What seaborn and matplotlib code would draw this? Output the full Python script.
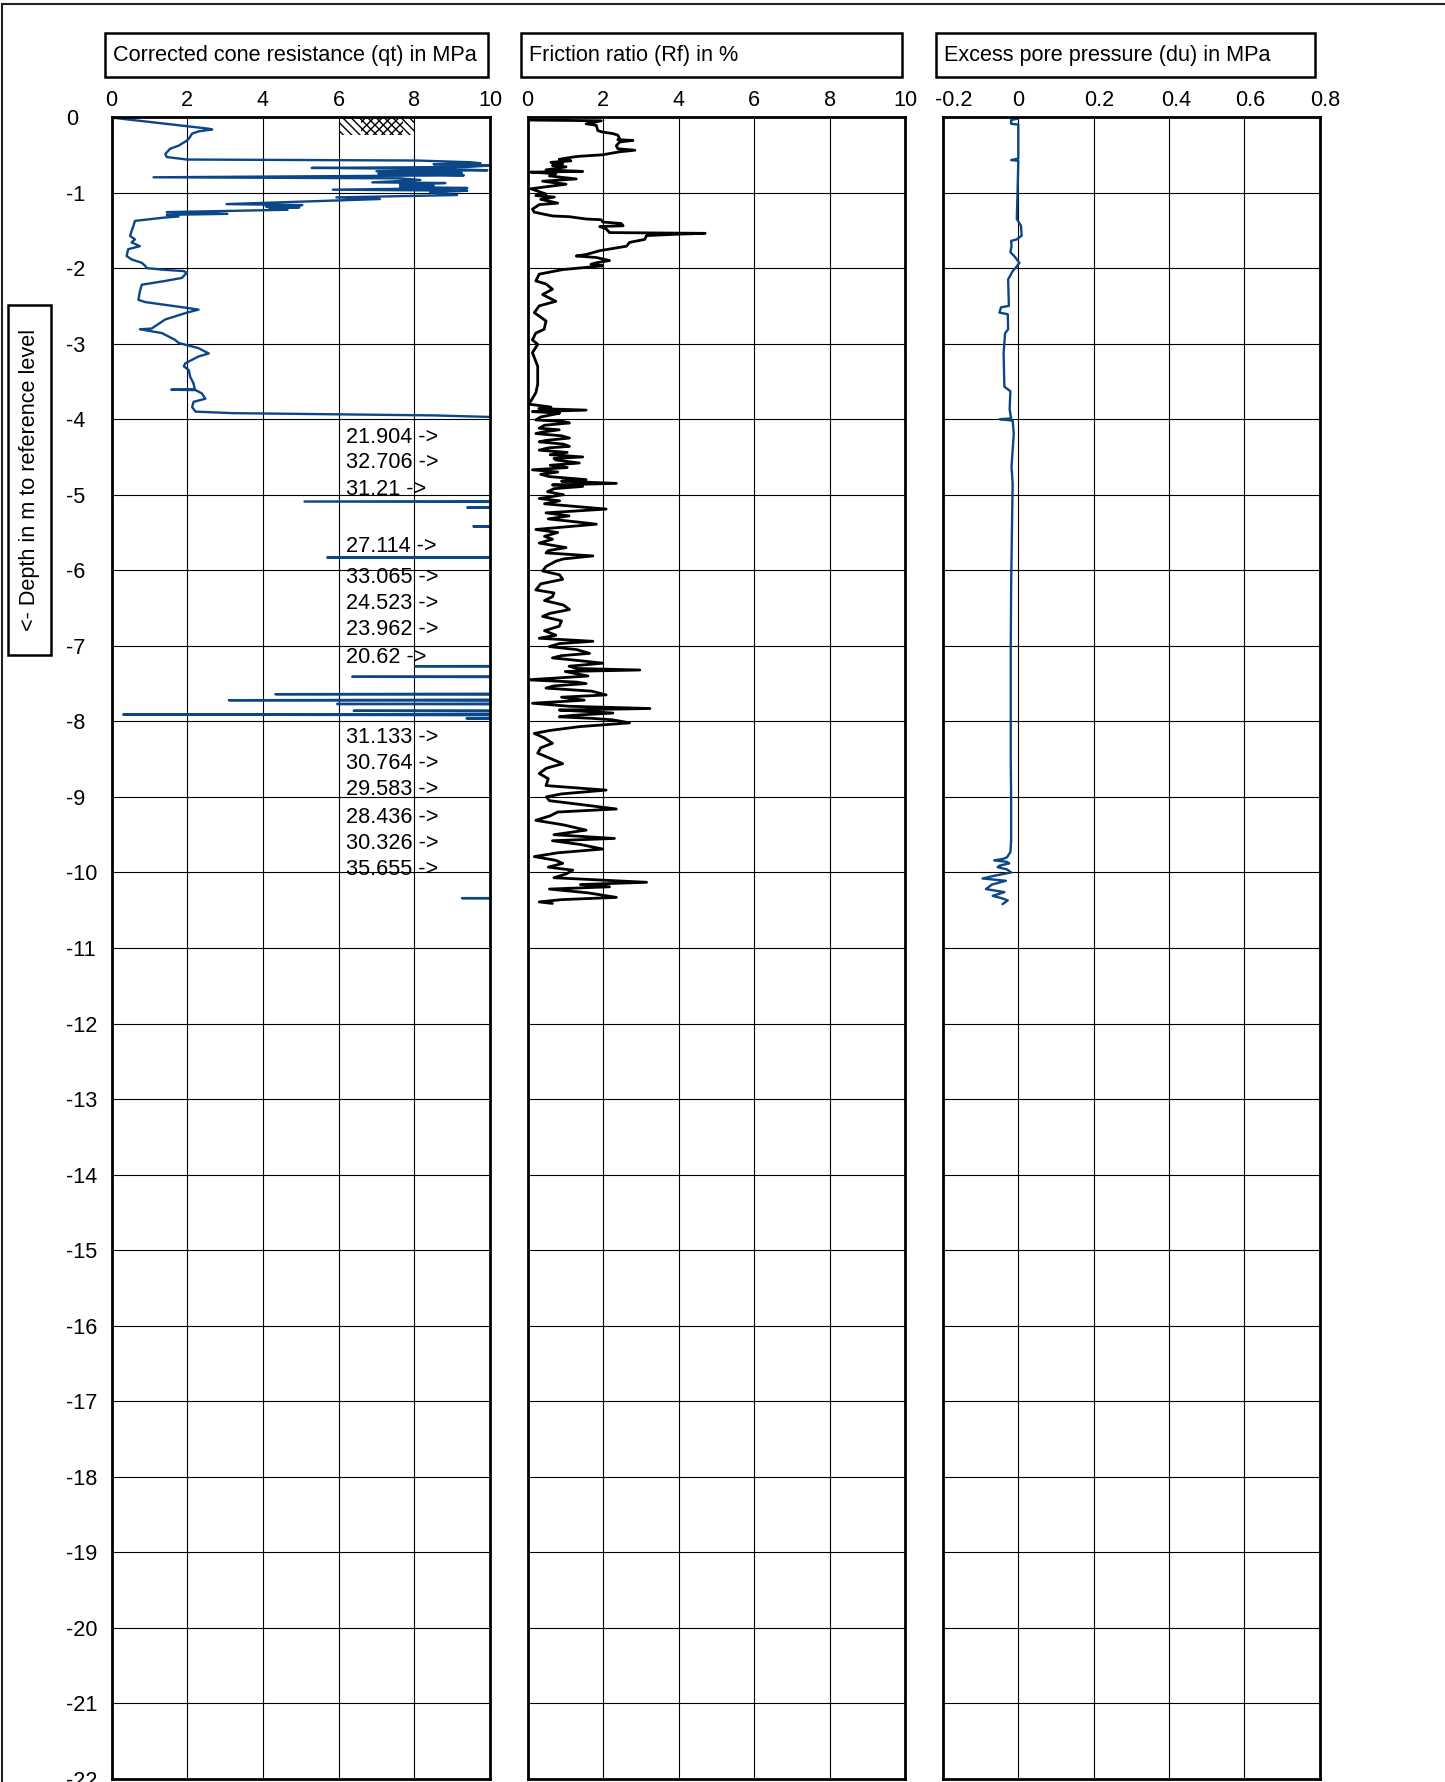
import matplotlib
matplotlib.use("Agg")
import matplotlib.pyplot as plt
from matplotlib.patches import Rectangle
from matplotlib.transforms import ScaledTranslation
import seaborn as sns

# ---- CPT sounding data (level in m relative to reference, negative downward) ----
qt_level = [-0.01, -0.155, -0.165, -0.19, -0.22, -0.29, -0.32, -0.38, -0.42, -0.49, -0.53, -0.55,
            -0.563, -0.576, -0.599, -0.612, -0.625, -0.643, -0.661, -0.674, -0.687, -0.705, -0.718,
            -0.741, -0.749, -0.772, -0.798, -0.812, -0.834, -0.847, -0.865, -0.874, -0.896, -0.909,
            -0.927, -0.940, -0.962, -0.976, -0.998, -1.033, -1.064, -1.086, -1.153, -1.166, -1.184,
            -1.197, -1.211, -1.228, -1.259, -1.282, -1.295, -1.317, -1.33, -1.375, -1.44, -1.51,
            -1.574, -1.62, -1.66, -1.71, -1.75, -1.84, -1.885, -1.93, -1.97, -2.00, -2.02, -2.04,
            -2.06, -2.13, -2.17, -2.22, -2.31, -2.42, -2.45, -2.53, -2.55, -2.59, -2.68, -2.77,
            -2.80, -2.81, -2.86, -2.95, -2.99, -3.02, -3.06, -3.13, -3.17, -3.26, -3.30, -3.35,
            -3.44, -3.53, -3.605, -3.61, -3.615, -3.66, -3.73, -3.77, -3.84, -3.90, -3.92, -3.95,
            -3.97, -4.24, -4.58, -4.93, -5.07, -5.09, -5.11, -5.16, -5.17, -5.18, -5.41, -5.42,
            -5.43, -5.68, -5.82, -5.83, -5.84, -6.09, -6.44, -6.79, -7.15, -7.26, -7.27, -7.28,
            -7.40, -7.41, -7.42, -7.63, -7.64, -7.65, -7.71, -7.72, -7.73, -7.76, -7.77, -7.78,
            -7.85, -7.86, -7.87, -7.90, -7.91, -7.92, -7.95, -7.96, -7.97, -8.21, -8.56, -8.90,
            -9.27, -9.62, -9.96, -10.33, -10.34, -10.36]
qt_value = [0.04, 2.57, 2.66, 2.30, 2.13, 2.04, 1.97, 1.77, 1.55, 1.42, 1.46, 1.77,
            1.99, 8.07, 9.49, 9.75, 8.51, 9.97, 9.40, 5.29, 8.51, 9.93, 7.00,
            9.26, 7.05, 9.31, 1.11, 7.62, 8.16, 7.62, 6.89, 8.82, 7.62, 8.51,
            7.62, 9.40, 5.85, 9.40, 8.42, 9.13, 5.94, 7.09, 3.04, 5.04, 4.08,
            4.96, 4.17, 4.65, 1.46, 3.06, 1.46, 1.77, 1.42, 0.62, 0.58, 0.53,
            0.49, 0.62, 0.53, 0.75, 0.44, 0.40, 0.53, 0.80, 0.89, 0.93, 1.33, 1.91,
            1.99, 1.86, 1.42, 0.80, 0.75, 0.71, 0.89, 2.04, 2.30, 1.99, 1.42, 1.15,
            1.06, 0.75, 1.33, 1.68, 1.77, 1.99, 2.30, 2.57, 2.30, 1.95, 1.91, 2.04,
            2.08, 2.17, 2.20, 1.58, 2.22, 2.39, 2.48, 2.17, 2.13, 2.22, 3.19, 8.51,
            9.97, 21.904, 32.706, 31.21, 26.5, 5.10, 24.8, 18.2, 9.40, 19.5, 22.3, 9.56,
            23.1, 27.114, 21.6, 5.70, 25.2, 33.065, 24.523, 23.962, 20.62, 17.4, 8.02, 15.8,
            16.9, 6.36, 18.3, 14.2, 4.33, 13.7, 12.5, 3.10, 14.8, 15.1, 5.96, 16.4,
            14.9, 6.40, 13.2, 12.6, 0.31, 11.8, 13.5, 9.38, 18.7, 31.133, 30.764, 29.583,
            28.436, 30.326, 35.655, 24.1, 9.26, 22.0]

# off-scale cone resistance values written beside the qt track
offscale_level = [-4.24, -4.58, -4.93, -5.68, -6.09, -6.44, -6.79, -7.15,
                  -8.21, -8.56, -8.90, -9.27, -9.62, -9.96]
offscale_value = [21.904, 32.706, 31.21, 27.114, 33.065, 24.523, 23.962, 20.62,
                  31.133, 30.764, 29.583, 28.436, 30.326, 35.655]

rf_level = [-0.04, -0.05, -0.09, -0.11, -0.18, -0.20, -0.22, -0.24, -0.29, -0.30, -0.31, -0.33,
            -0.38, -0.42, -0.44, -0.46, -0.50, -0.52, -0.53, -0.56, -0.58, -0.60, -0.62, -0.64,
            -0.66, -0.70, -0.72, -0.73, -0.75, -0.78, -0.82, -0.85, -0.89, -0.95, -1.02, -1.04,
            -1.06, -1.09, -1.14, -1.16, -1.22, -1.26, -1.31, -1.32, -1.35, -1.36, -1.39, -1.41,
            -1.44, -1.45, -1.48, -1.53, -1.54, -1.55, -1.57, -1.62, -1.66, -1.71, -1.77, -1.82,
            -1.84, -1.86, -1.90, -1.93, -1.95, -1.97, -2.02, -2.08, -2.17, -2.21, -2.28, -2.35,
            -2.44, -2.50, -2.59, -2.70, -2.81, -2.86, -2.95, -3.01, -3.12, -3.30, -3.54, -3.65,
            -3.76, -3.80, -3.81, -3.84, -3.86, -3.88, -3.90, -3.92, -3.94, -3.97, -4.01, -4.03,
            -4.05, -4.08, -4.12, -4.14, -4.17, -4.19, -4.22, -4.25, -4.28, -4.30, -4.33, -4.36,
            -4.38, -4.41, -4.44, -4.47, -4.50, -4.52, -4.54, -4.58, -4.61, -4.64, -4.67, -4.70,
            -4.73, -4.76, -4.80, -4.82, -4.85, -4.87, -4.89, -4.92, -4.96, -5.00, -5.05, -5.08,
            -5.12, -5.16, -5.19, -5.24, -5.28, -5.32, -5.36, -5.39, -5.46, -5.50, -5.55, -5.59,
            -5.64, -5.70, -5.74, -5.77, -5.81, -5.85, -5.88, -5.95, -6.01, -6.06, -6.12, -6.18,
            -6.26, -6.30, -6.35, -6.40, -6.46, -6.52, -6.57, -6.61, -6.67, -6.74, -6.80, -6.86,
            -6.90, -6.94, -6.97, -7.01, -7.05, -7.10, -7.13, -7.16, -7.20, -7.23, -7.27, -7.30,
            -7.32, -7.34, -7.36, -7.40, -7.45, -7.48, -7.50, -7.53, -7.56, -7.60, -7.65, -7.68,
            -7.72, -7.76, -7.80, -7.83, -7.85, -7.87, -7.89, -7.92, -7.94, -7.96, -7.98, -8.02,
            -8.07, -8.12, -8.16, -8.22, -8.29, -8.35, -8.42, -8.49, -8.56, -8.62, -8.69, -8.76,
            -8.85, -8.91, -8.96, -9.00, -9.05, -9.10, -9.16, -9.20, -9.25, -9.31, -9.37, -9.44,
            -9.50, -9.55, -9.58, -9.63, -9.69, -9.74, -9.79, -9.84, -9.88, -9.93, -9.97, -10.02,
            -10.07, -10.13, -10.16, -10.19, -10.22, -10.27, -10.33, -10.36, -10.39, -10.41]
rf_value = [0.00, 1.95, 1.55, 1.82, 1.86, 1.99, 2.26, 2.39, 2.44, 2.39, 2.79, 2.44,
            2.35, 2.39, 2.84, 2.44, 1.99, 1.37, 1.20, 0.84, 1.15, 0.62, 0.93, 0.66,
            1.02, 0.49, 1.46, 0.09, 0.75, 0.58, 1.29, 0.40, 1.02, 0.09, 0.49, 0.22,
            0.71, 0.35, 0.80, 0.31, 0.13, 0.18, 0.66, 1.11, 1.55, 1.95, 1.99, 2.48,
            2.53, 1.91, 2.08, 2.17, 4.70, 4.03, 3.15, 3.10, 2.70, 2.62, 1.91, 1.55,
            1.29, 1.82, 2.17, 1.82, 1.68, 1.99, 0.93, 0.31, 0.22, 0.49, 0.66, 0.40,
            0.75, 0.31, 0.18, 0.49, 0.44, 0.22, 0.13, 0.27, 0.13, 0.27, 0.27, 0.22,
            0.09, 0.00, 0.18, 0.62, 0.30, 1.55, 0.13, 0.85, 0.66, 0.35, 0.22, 0.95,
            1.11, 0.45, 0.31, 0.84, 0.40, 0.22, 0.90, 1.11, 0.50, 0.31, 0.95, 1.11,
            0.55, 0.31, 1.05, 0.60, 1.46, 0.70, 0.75, 1.37, 0.60, 1.05, 0.13, 0.80,
            0.35, 0.58, 1.55, 0.90, 2.35, 0.66, 1.46, 0.70, 0.53, 0.95, 0.31, 0.85,
            0.45, 1.40, 2.08, 0.49, 1.10, 0.55, 1.30, 1.82, 0.22, 0.80, 0.45, 0.66,
            0.31, 1.02, 0.55, 0.49, 1.73, 0.95, 0.75, 0.49, 0.40, 0.85, 0.93, 0.35,
            0.22, 0.70, 0.66, 0.45, 0.95, 1.11, 0.60, 0.40, 0.90, 0.84, 0.45, 0.75,
            0.31, 1.73, 0.85, 0.58, 1.30, 1.64, 0.90, 0.66, 1.45, 1.99, 1.10, 1.29,
            2.97, 1.00, 1.20, 1.60, 0.00, 1.30, 1.55, 0.70, 0.49, 1.70, 2.08, 0.90,
            1.50, 0.13, 1.10, 3.24, 0.84, 1.60, 2.26, 1.20, 0.84, 1.70, 2.26, 2.70,
            1.37, 0.60, 0.18, 0.45, 0.66, 0.35, 0.27, 0.60, 0.93, 0.50, 0.31, 0.55,
            0.49, 2.08, 0.90, 0.50, 0.58, 1.40, 2.35, 0.80, 0.60, 0.22, 0.95, 1.55,
            0.70, 2.30, 0.66, 1.40, 1.99, 0.80, 0.18, 0.75, 0.93, 0.55, 1.20, 1.02,
            0.70, 3.15, 1.40, 2.17, 0.58, 1.60, 2.35, 0.90, 0.31, 0.66]

du_level = [-0.02, -0.04, -0.09, -0.10, -0.55, -0.57, -0.58, -1.00, -1.35, -1.44, -1.57, -1.62,
            -1.64, -1.71, -1.79, -1.84, -1.93, -1.99, -2.04, -2.15, -2.50, -2.52, -2.59, -2.61,
            -2.81, -2.86, -3.12, -3.57, -3.63, -3.87, -3.99, -4.00, -4.02, -4.19, -4.63, -4.85,
            -5.50, -6.20, -7.00, -7.80, -8.50, -9.04, -9.58, -9.73, -9.80, -9.82, -9.84, -9.86,
            -9.88, -9.91, -9.93, -9.96, -10.00, -10.04, -10.08, -10.11, -10.16, -10.22, -10.26,
            -10.31, -10.34, -10.37, -10.42]
du_value = [0.000, -0.019, -0.019, 0.000, 0.000, -0.019, 0.000, -0.002, -0.004, 0.007, 0.009, -0.004,
            -0.019, -0.018, -0.021, -0.011, 0.003, -0.006, -0.015, -0.027, -0.025, -0.046, -0.050, -0.028,
            -0.027, -0.035, -0.039, -0.037, -0.021, -0.023, -0.019, -0.049, -0.015, -0.012, -0.018, -0.015,
            -0.017, -0.019, -0.020, -0.020, -0.020, -0.019, -0.019, -0.021, -0.030, -0.040, -0.064, -0.030,
            -0.024, -0.050, -0.055, -0.030, -0.019, -0.060, -0.095, -0.033, -0.070, -0.086, -0.037,
            -0.068, -0.045, -0.028, -0.042]

x_ticks_qt = [0, 2, 4, 6, 8, 10]
x_ticks_rf = [0, 2, 4, 6, 8, 10]
x_ticks_du = [-0.2, 0, 0.2, 0.4, 0.6, 0.8]
x_tick_labels_du = ["-0.2", "0", "0.2", "0.4", "0.6", "0.8"]
y_ticks = list(range(0, -23, -1))
titles = ["Corrected cone resistance (qt) in MPa",
          "Friction ratio (Rf) in %",
          "Excess pore pressure (du) in MPa"]
y_title = "<- Depth in m to reference level"

# ---- styling ----
sns.set_theme(style="white")
plt.rcParams["font.family"] = ["Liberation Sans", "DejaVu Sans"]
FS = 15.6
BLUE = "#0b4788"

W, H = 1445, 1782
fig = plt.figure(figsize=(W / 100, H / 100), dpi=100)
fig.patch.set_facecolor("white")


def px(x0, y0, x1, y1):
    """Figure-fraction rectangle from pixel edges (top-left origin)."""
    return [x0 / W, 1 - y1 / H, (x1 - x0) / W, (y1 - y0) / H]


ax_qt = fig.add_axes(px(111.5, 117, 490, 1779))
ax_rf = fig.add_axes(px(527.5, 117, 905.5, 1779))
ax_du = fig.add_axes(px(943, 117, 1319.5, 1779))

sns.lineplot(x=qt_value, y=qt_level, ax=ax_qt, sort=False, estimator=None,
             color=BLUE, linewidth=1.7)
sns.lineplot(x=rf_value, y=rf_level, ax=ax_rf, sort=False, estimator=None,
             color="black", linewidth=2.0)
sns.lineplot(x=du_value, y=du_level, ax=ax_du, sort=False, estimator=None,
             color=BLUE, linewidth=1.7)

limits = [(0, 10), (0, 10), (-0.2, 0.8)]
xticks = [x_ticks_qt, x_ticks_rf, x_ticks_du]
for ax, lim, xt in zip([ax_qt, ax_rf, ax_du], limits, xticks):
    ax.set_xlim(*lim)
    ax.set_ylim(-22, 0)
    ax.set_xticks(xt)
    ax.set_yticks(y_ticks)
    ax.xaxis.tick_top()
    ax.grid(True, color="black", linewidth=0.8)
    ax.set_axisbelow(True)
    for s in ax.spines.values():
        s.set_color("black")
        s.set_linewidth(2.0)
    ax.tick_params(axis="x", length=0, pad=4, labelsize=FS, labelcolor="black")
    ax.tick_params(axis="y", length=0, labelsize=FS, labelcolor="black")
    ax.set_xlabel("")
    ax.set_ylabel("")
    ax.set_facecolor("white")

ax_du.set_xticklabels(x_tick_labels_du)
ax_rf.set_yticklabels([])
ax_du.set_yticklabels([])
ax_qt.set_yticklabels([str(t) for t in y_ticks])
ax_qt.tick_params(axis="y", pad=33)
for lab in ax_qt.get_yticklabels():
    lab.set_horizontalalignment("left")

# nudge the pore-pressure tick labels slightly to the right
du_shift = [11, 0, 6, 7, 6, 6]
for lab, dx in zip(ax_du.get_xticklabels(), du_shift):
    lab.set_transform(lab.get_transform() + ScaledTranslation(dx / 100, 0, fig.dpi_scale_trans))

# hatched marker at the top of the qt track
ax_qt.add_patch(Rectangle((6.0, -0.24), 2.0, 0.24, fill=False, hatch="\\\\\\\\",
                          linewidth=0, edgecolor="black", zorder=3))
ax_qt.add_patch(Rectangle((6.6, -0.24), 1.1, 0.24, fill=False, hatch="////",
                          linewidth=0, edgecolor="black", zorder=3))

# labels for cone resistance values beyond the axis range
for lv, val in zip(offscale_level, offscale_value):
    ax_qt.text(6.2, lv, f"{val:g} ->", fontsize=FS, ha="left", va="center",
               color="black", zorder=5, clip_on=False)

# titled boxes above the tracks
boxes = [(105, 488), (521, 902), (936, 1315)]
for (x0, x1), title in zip(boxes, titles):
    fig.add_artist(Rectangle((x0 / W, 1 - 77 / H), (x1 - x0) / W, 44 / H,
                             transform=fig.transFigure, fill=False,
                             edgecolor="black", linewidth=1.8))
    fig.text((x0 + 8) / W, 1 - 55 / H, title, fontsize=FS, ha="left",
             va="center", color="black")

# depth axis title box
fig.add_artist(Rectangle((8 / W, 1 - 655 / H), 43 / W, 350 / H,
                         transform=fig.transFigure, fill=False,
                         edgecolor="black", linewidth=1.8))
fig.text(29.5 / W, 1 - 480 / H, y_title, rotation=90, fontsize=FS,
         ha="center", va="center", color="black")

# outer chart frame
fig.add_artist(Rectangle((1.5 / W, -0.2), 1.3, 1.2 - 4 / H,
                         transform=fig.transFigure, fill=False,
                         edgecolor="#222222", linewidth=1.5))

fig.savefig("out.png", dpi=100, facecolor="white")
